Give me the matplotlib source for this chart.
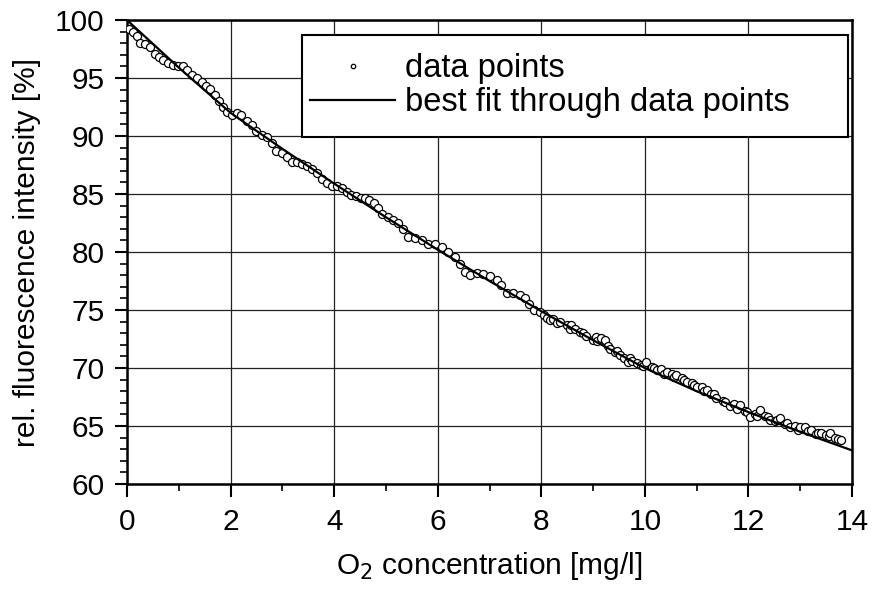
import matplotlib
matplotlib.use('Agg')
import matplotlib.pyplot as plt
from matplotlib.ticker import MultipleLocator
from matplotlib.patches import Rectangle

plt.rcParams['font.family'] = ['Liberation Sans', 'DejaVu Sans']

conc = [0.04, 0.12, 0.19, 0.26, 0.35, 0.44, 0.54, 0.62, 0.70, 0.80, 0.89, 0.99,
        1.09, 1.15, 1.25, 1.35, 1.44, 1.53, 1.60, 1.70, 1.78, 1.86, 1.93, 2.02,
        2.12, 2.21, 2.31, 2.41, 2.50, 2.60, 2.70, 2.79, 2.88, 2.99, 3.08, 3.18,
        3.28, 3.37, 3.47, 3.57, 3.66, 3.76, 3.86, 3.95, 4.06, 4.15, 4.24, 4.33,
        4.42, 4.51, 4.60, 4.68, 4.76, 4.84, 4.92, 5.03, 5.13, 5.24, 5.33, 5.43,
        5.56, 5.69, 5.82, 5.95, 6.08, 6.20, 6.33, 6.43, 6.53, 6.62, 6.75, 6.88,
        7.01, 7.14, 7.23, 7.33, 7.46, 7.59, 7.68, 7.77, 7.86, 7.97, 8.05, 8.10,
        8.17, 8.23, 8.30, 8.36, 8.49, 8.55, 8.58, 8.65, 8.75, 8.80, 8.87, 9.00,
        9.05, 9.07, 9.15, 9.23, 9.28, 9.32, 9.42, 9.47, 9.52, 9.60, 9.68, 9.72,
        9.76, 9.84, 9.93, 9.97, 10.03, 10.13, 10.18, 10.23, 10.32, 10.37, 10.42,
        10.52, 10.56, 10.61, 10.71, 10.76, 10.81, 10.90, 10.95, 11.00, 11.10,
        11.15, 11.19, 11.28, 11.33, 11.38, 11.50, 11.55, 11.64, 11.73, 11.78,
        11.83, 11.93, 11.98, 12.03, 12.12, 12.17, 12.22, 12.32, 12.37, 12.41,
        12.51, 12.56, 12.61, 12.70, 12.75, 12.80, 12.90, 12.95, 13.00, 13.10,
        13.15, 13.20, 13.30, 13.35, 13.40, 13.50, 13.55, 13.57, 13.68, 13.73,
        13.78]
intensity = [99.2, 99.0, 98.6, 98.0, 97.9, 97.7, 97.1, 96.8, 96.55, 96.3, 96.1, 96.06,
             96.0, 95.7, 95.3, 95.0, 94.7, 94.3, 94.05, 93.5, 93.0, 92.5, 92.1, 91.8,
             91.96, 91.8, 91.3, 90.95, 90.4, 90.1, 89.95, 89.4, 88.7, 88.5, 88.2, 87.8,
             87.8, 87.6, 87.4, 87.2, 86.8, 86.3, 85.95, 85.7, 85.7, 85.5, 85.2, 84.95,
             84.8, 84.7, 84.65, 84.45, 84.2, 83.8, 83.3, 83.0, 82.8, 82.5, 82.0, 81.3,
             81.2, 81.0, 80.7, 80.7, 80.45, 80.0, 79.6, 79.0, 78.3, 78.0, 78.2, 78.1,
             77.9, 77.6, 77.2, 76.5, 76.5, 76.3, 76.0, 75.5, 75.0, 74.85, 74.6, 74.3,
             74.1, 74.2, 73.9, 74.0, 73.7, 73.4, 73.7, 73.4, 73.1, 73.0, 72.8, 72.4,
             72.7, 72.3, 72.6, 72.4, 71.9, 71.6, 71.4, 71.5, 71.1, 70.9, 70.55, 70.9,
             70.6, 70.45, 70.3, 70.2, 70.55, 70.1, 70.0, 69.8, 69.9, 69.5, 69.7,
             69.5, 69.2, 69.4, 69.1, 69.0, 68.8, 68.7, 68.5, 68.4, 68.4,
             68.0, 68.1, 67.8, 67.8, 67.4, 67.2, 67.1, 66.7, 66.9, 66.5,
             66.8, 66.3, 66.2, 65.8, 66.0, 65.9, 66.4, 65.9, 65.8, 65.5,
             65.4, 65.5, 65.7, 65.2, 65.3, 64.95, 65.0, 64.7, 64.95, 64.9,
             64.6, 64.7, 64.3, 64.4, 64.4, 64.2, 64.1, 64.4, 64.0, 63.9,
             63.8]

# fitted curve
fit_conc = [0, 1, 2, 3, 4, 5, 6, 7, 8, 9, 10, 11, 12, 13, 14]
fit_intensity = [100.0, 95.9, 92.0, 88.9, 85.9, 83.0, 80.2, 77.5, 74.9,
                 72.4, 70.0, 68.0, 66.2, 64.5, 62.9]

fig = plt.figure(figsize=(8.73, 5.91), dpi=100)
ax = fig.add_axes([0.1455, 0.181, 0.8305, 0.785])

ax.plot(conc, intensity, linestyle='none', marker='o', markersize=5.8,
        markerfacecolor='white', markeredgecolor='black', markeredgewidth=0.9,
        label='data points', zorder=3)
ax.plot(fit_conc, fit_intensity, color='black', linewidth=1.6,
        label='best fit through data points', zorder=4)

ax.set_xlim(0, 14)
ax.set_ylim(60, 100)
ax.xaxis.set_major_locator(MultipleLocator(2))
ax.xaxis.set_minor_locator(MultipleLocator(1))
ax.yaxis.set_major_locator(MultipleLocator(5))
ax.yaxis.set_minor_locator(MultipleLocator(1))

ax.grid(True, which='major', color='#222222', linewidth=0.9)
ax.set_axisbelow(True)

for s in ax.spines.values():
    s.set_linewidth(1.8)

ax.tick_params(which='major', direction='out', length=9, width=1.5,
               labelsize=21.5, pad=7)
ax.tick_params(which='minor', direction='out', length=5, width=1.2)
ax.tick_params(axis='x', which='major', pad=8)

ax.set_xlabel('O$_2$ concentration [mg/l]', fontsize=21.5, labelpad=10)
ax.set_ylabel('rel. fluorescence intensity [%]', fontsize=21.5, labelpad=10)

# legend box (wider than its content, as in the original)
ax.add_patch(Rectangle((0.2414, 0.7478), 0.7531, 0.2199, transform=ax.transAxes,
                       facecolor='white', edgecolor='black', linewidth=1.5,
                       zorder=5))
leg = ax.legend(loc='upper left', bbox_to_anchor=(0.228, 0.9677), fontsize=23.5,
                frameon=False, markerscale=0.55, handlelength=2.6,
                handletextpad=0.3, labelspacing=0.1, borderpad=0.55,
                borderaxespad=0)
leg.set_zorder(6)

plt.savefig('out.png', dpi=100)
